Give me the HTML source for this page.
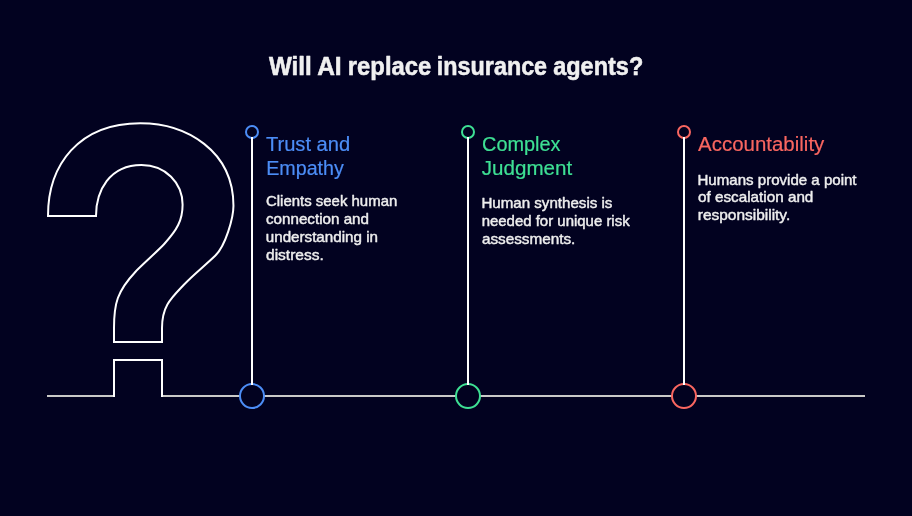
<!DOCTYPE html>
<html lang="en">
<head>
<meta charset="utf-8">
<title>Will AI replace insurance agents?</title>
<style>
html,body{margin:0;padding:0;background:#020220;}
body{width:912px;height:516px;overflow:hidden;}
svg{display:block;will-change:transform;}
text{font-family:"Liberation Sans",sans-serif;stroke-linejoin:round;}
.title{font-weight:700;font-size:25px;fill:#f0f0f0;stroke:#f0f0f0;stroke-width:0.55px;}
.h{font-size:20px;stroke-width:0.2px;}
.b{font-size:15px;fill:#eeeeee;stroke:#eeeeee;stroke-width:0.45px;}
</style>
</head>
<body>
<svg width="912" height="516" viewBox="0 0 912 516">
<rect width="912" height="516" fill="#020220"/>
<!-- baseline -->
<path d="M47 396H114M162 396H865" stroke="#c9c9c7" stroke-width="2" fill="none"/>
<!-- question mark -->
<g fill="none" stroke="#ffffff" stroke-width="2" stroke-linejoin="miter">
<path d="M114 397V360H162V397"/>
<path d="M48 215.9 C48 164.85 78.71 123.21 140.33 123.21 C186.31 123.21 233.45 150.73 233.45 205.77 C233.45 218 225.52 245.78 215.18 255.79 C206 264.69 193.88 274.22 183.64 284.97 C170.85 298.4 162 306.31 162 328.15 V342 H114 V327.92 C114 303.56 117.09 291.32 135.73 271.46 C140.52 266.36 158.3 250.4 164.21 243.96 C176.87 230.13 182.6 220.44 182.6 204.68 C182.6 182.97 165.57 164.94 141.4 164.94 C109.2 164.94 96 191.1 96 215.9 Z"/>
</g>
<g fill="#020220" stroke-width="2">
<circle cx="252" cy="396" r="12" stroke="#4c8df6"/>
<circle cx="468" cy="396" r="12" stroke="#3ee094"/>
<circle cx="684" cy="396" r="12" stroke="#f96660"/>
<circle cx="252" cy="132" r="6" stroke="#4c8df6"/>
<circle cx="468" cy="132" r="6" stroke="#3ee094"/>
<circle cx="684" cy="132" r="6" stroke="#f96660"/>
</g>
<path d="M252 137V385M468 137V385M684 137V385" stroke="#ffffff" stroke-width="2" fill="none"/>

<g class="title">
<text><tspan x="268.90" y="74.70" textLength="42.80" lengthAdjust="spacingAndGlyphs">Will</tspan> <tspan x="317.15" y="74.70" textLength="24.50" lengthAdjust="spacingAndGlyphs">AI</tspan> <tspan x="347.85" y="74.70" textLength="83.35" lengthAdjust="spacingAndGlyphs">replace</tspan> <tspan x="436.85" y="74.70" textLength="110.25" lengthAdjust="spacingAndGlyphs">insurance</tspan> <tspan x="553.20" y="74.70" textLength="90.10" lengthAdjust="spacingAndGlyphs">agents?</tspan></text>
</g>
<g class="h" fill="#4c8df6" stroke="#4c8df6">
<text><tspan x="265.90" y="150.80" textLength="84.35" lengthAdjust="spacingAndGlyphs">Trust and</tspan>
<tspan x="266.20" y="174.90" textLength="77.70" lengthAdjust="spacingAndGlyphs">Empathy</tspan></text>
</g>
<g class="h" fill="#3ee094" stroke="#3ee094">
<text><tspan x="482.10" y="150.80" textLength="78.45" lengthAdjust="spacingAndGlyphs">Complex</tspan>
<tspan x="481.75" y="174.90" textLength="90.40" lengthAdjust="spacingAndGlyphs">Judgment</tspan></text>
</g>
<g class="h" fill="#f96660" stroke="#f96660">
<text><tspan x="698.10" y="150.80" textLength="126.20" lengthAdjust="spacingAndGlyphs">Accountability</tspan></text>
</g>
<g class="b">
<text><tspan x="266.00" y="205.80" textLength="131.25" lengthAdjust="spacingAndGlyphs">Clients seek human</tspan>
<tspan x="266.00" y="224.10" textLength="102.95" lengthAdjust="spacingAndGlyphs">connection and</tspan>
<tspan x="265.75" y="241.80" textLength="112.20" lengthAdjust="spacingAndGlyphs">understanding in</tspan>
<tspan x="266.00" y="259.80" textLength="57.85" lengthAdjust="spacingAndGlyphs">distress.</tspan></text>
<text><tspan x="481.40" y="208.30" textLength="131.05" lengthAdjust="spacingAndGlyphs">Human synthesis is</tspan>
<tspan x="481.65" y="226.20" textLength="148.00" lengthAdjust="spacingAndGlyphs">needed for unique risk</tspan>
<tspan x="481.90" y="244.30" textLength="93.45" lengthAdjust="spacingAndGlyphs">assessments.</tspan></text>
<text><tspan x="697.50" y="184.60" textLength="159.05" lengthAdjust="spacingAndGlyphs">Humans provide a point</tspan>
<tspan x="698.00" y="202.40" textLength="115.35" lengthAdjust="spacingAndGlyphs">of escalation and</tspan>
<tspan x="697.75" y="220.30" textLength="92.50" lengthAdjust="spacingAndGlyphs">responsibility.</tspan></text>
</g>
</svg>
</body>
</html>
